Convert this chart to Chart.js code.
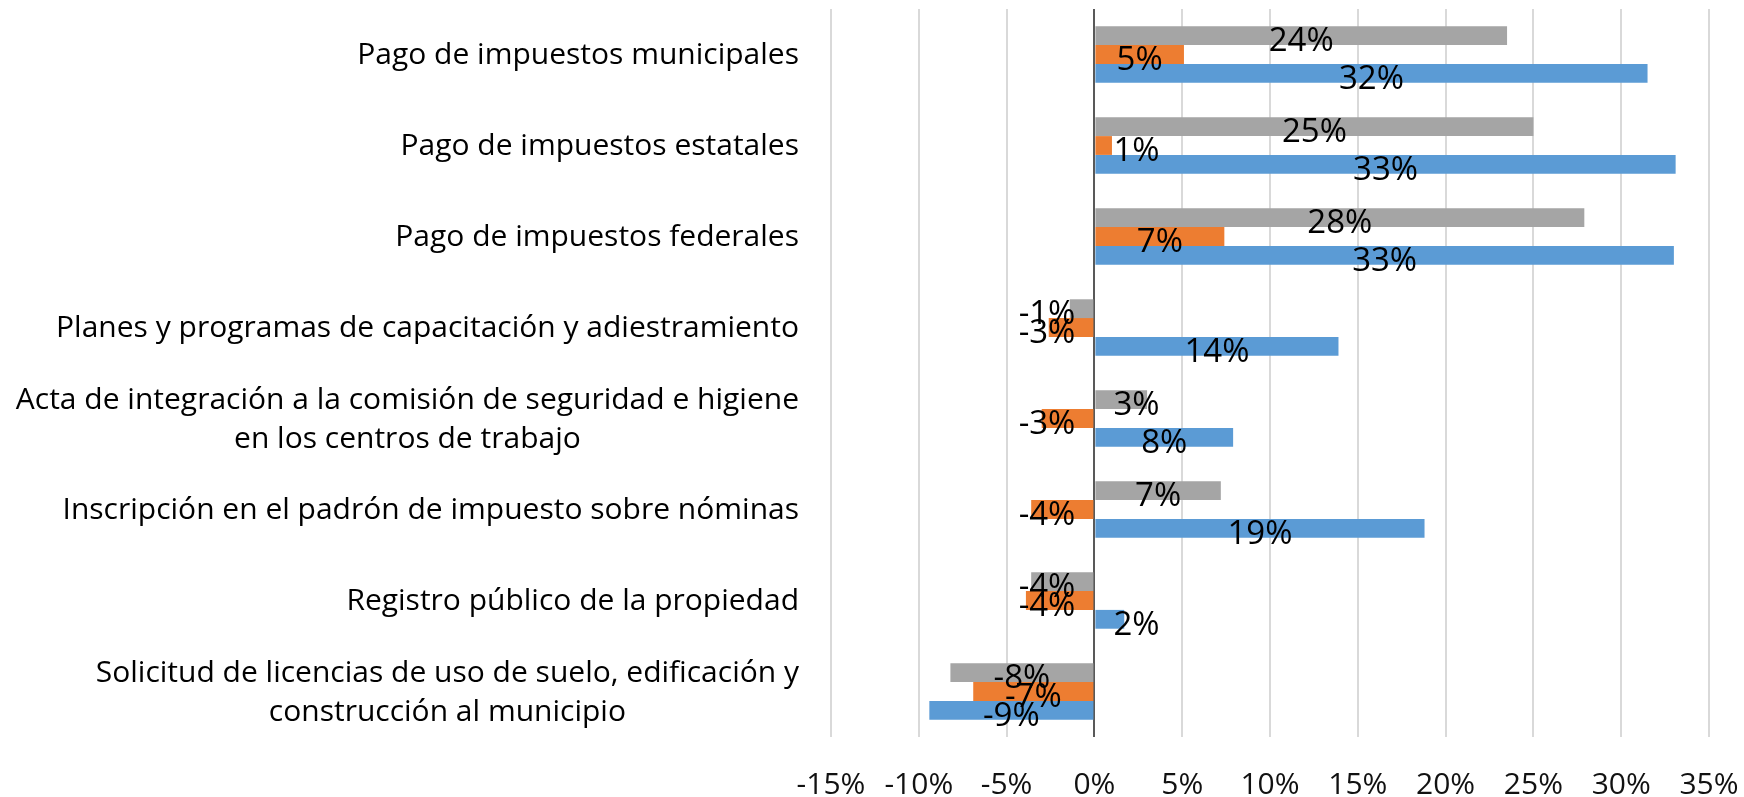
<!DOCTYPE html>
<html><head><meta charset="utf-8">
<script src="https://cdn.jsdelivr.net/npm/chart.js@4.4.1/dist/chart.umd.min.js"></script>
<style>html,body{margin:0;padding:0;background:#fff;}#wrap{width:1744px;height:797px;}</style>
</head><body><div id="wrap"><canvas id="c" width="1744" height="797"></canvas></div>
<script>
const categories = [
  "Pago de impuestos municipales",
  "Pago de impuestos estatales",
  "Pago de impuestos federales",
  "Planes y programas de capacitación y adiestramiento",
  ["Acta de integración a la comisión de seguridad e higiene", "en los centros de trabajo"],
  "Inscripción en el padrón de impuesto sobre nóminas",
  "Registro público de la propiedad",
  ["Solicitud de licencias de uso de suelo, edificación y", "construcción al municipio"]
];
const seriesGray   = [23.5, 25.0, 27.9, -1.4, 3.0, 7.2, -3.6, -8.2];
const seriesOrange = [5.1, 1.0, 7.4, -2.6, -3.0, -3.6, -3.9, -6.9];
const seriesBlue   = [31.5, 33.1, 33.0, 13.9, 7.9, 18.8, 1.7, -9.4];
const xTicks = [-15, -10, -5, 0, 5, 10, 15, 20, 25, 30, 35];

const FONT = '"Open Sans", "Liberation Sans", sans-serif';
const CAT_SIZE = 30, DL_SIZE = 33, TICK_SIZE = 30;

const catLabels = {
  id: 'catLabels',
  afterDraw(chart) {
    const ys = chart.scales.y, ctx = chart.ctx;
    ctx.save();
    ctx.font = CAT_SIZE + 'px ' + FONT;
    ctx.fillStyle = '#000';
    ctx.textBaseline = 'middle';
    ctx.textAlign = 'center';
    const right = chart.chartArea.left - 32;
    const lh = 39;
    categories.forEach((lab, i) => {
      const lines = Array.isArray(lab) ? lab : [lab];
      const w = Math.max(...lines.map(l => ctx.measureText(l).width));
      const cx = right - w / 2;
      const py = ys.getPixelForValue(i) + 1;
      lines.forEach((l, j) => ctx.fillText(l, cx, py + (j - (lines.length - 1) / 2) * lh));
    });
    ctx.restore();
  }
};

const dataLabels = {
  id: 'dataLabels',
  afterDatasetsDraw(chart) {
    const ctx = chart.ctx;
    const x0 = chart.scales.x.getPixelForValue(0);
    ctx.save();
    ctx.font = DL_SIZE + 'px ' + FONT;
    ctx.fillStyle = '#000';
    ctx.textAlign = 'center';
    ctx.textBaseline = 'middle';
    const pad = 19;
    chart.data.datasets.forEach((ds, di) => {
      const meta = chart.getDatasetMeta(di);
      meta.data.forEach((bar, i) => {
        const v = ds.data[i];
        const txt = Math.round(v) + '%';
        const w = ctx.measureText(txt).width;
        let cx = (bar.x + bar.base) / 2;
        if (v >= 0) cx = Math.max(cx, x0 + pad + w / 2);
        else cx = Math.min(cx, x0 - pad - w / 2);
        ctx.fillText(txt, cx, bar.y + 6);
      });
    });
    ctx.restore();
  }
};

new Chart(document.getElementById('c'), {
  type: 'bar',
  data: {
    labels: categories,
    datasets: [
      { label: 'Serie 3', data: seriesGray, backgroundColor: '#A5A5A5' },
      { label: 'Serie 2', data: seriesOrange, backgroundColor: '#ED7D31' },
      { label: 'Serie 1', data: seriesBlue, backgroundColor: '#5B9BD5' }
    ]
  },
  options: {
    indexAxis: 'y',
    responsive: false,
    animation: false,
    devicePixelRatio: 1,
    categoryPercentage: 0.62,
    barPercentage: 1.0,
    layout: { padding: { top: 9, right: 35, left: 0, bottom: 0 } },
    plugins: { legend: { display: false }, tooltip: { enabled: false } },
    scales: {
      x: {
        type: 'linear',
        min: -15, max: 35,
        afterBuildTicks: s => { s.ticks = xTicks.map(v => ({ value: v })); },
        afterFit: s => { s.height = 60; s.paddingLeft = 0; s.paddingRight = 0; },
        border: { display: false },
        grid: {
          drawTicks: false,
          lineWidth: 2,
          color: c => (c.tick && c.tick.value === 0) ? '#595959' : '#D9D9D9'
        },
        ticks: {
          callback: v => v + '%',
          color: '#111',
          font: { family: FONT, size: TICK_SIZE },
          padding: 30,
          maxRotation: 0
        }
      },
      y: {
        afterFit: s => { s.width = 831; },
        border: { display: false },
        grid: { display: false, drawTicks: false },
        ticks: { display: false }
      }
    }
  },
  plugins: [catLabels, dataLabels]
});
</script>
</body></html>
